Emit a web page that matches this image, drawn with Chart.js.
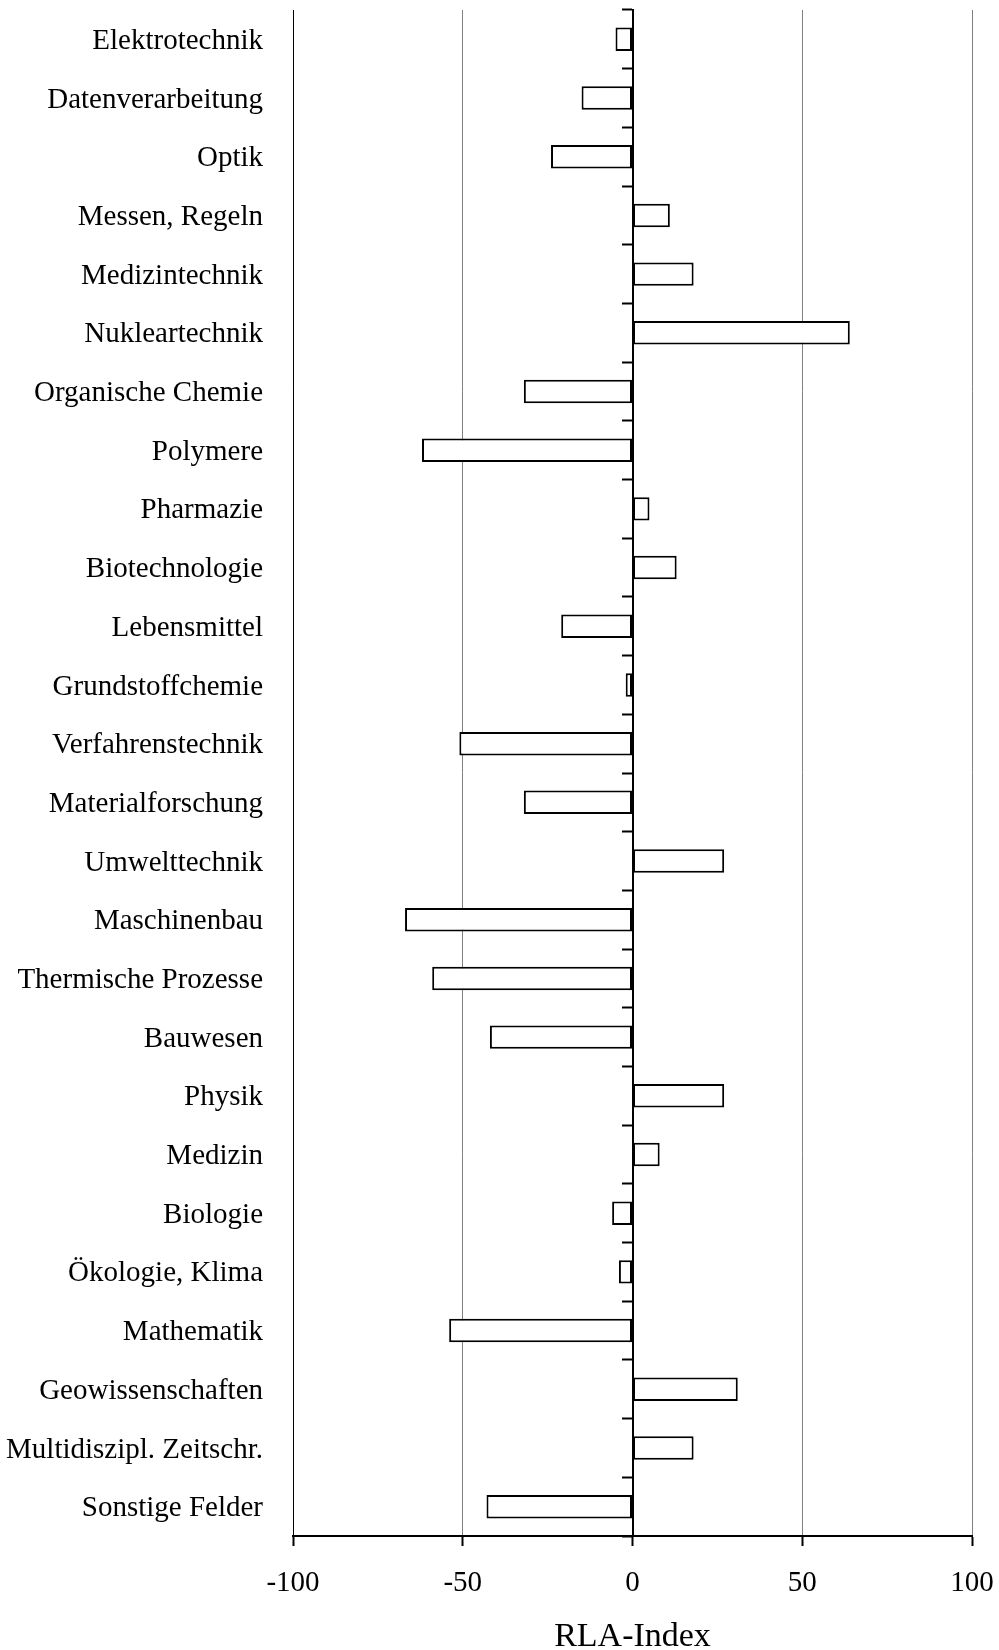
<!DOCTYPE html>
<html>
<head>
<meta charset="utf-8">
<script src="https://cdn.jsdelivr.net/npm/chart.js@4.4.1/dist/chart.umd.min.js"></script>
<style>
  html, body { margin: 0; padding: 0; background: #fff; }
  #wrap { width: 999px; height: 1650px; position: relative; }
</style>
</head>
<body>
<div id="wrap"><canvas id="c"></canvas></div>
<script>
const categories = [
  "Elektrotechnik", "Datenverarbeitung", "Optik", "Messen, Regeln", "Medizintechnik",
  "Nukleartechnik", "Organische Chemie", "Polymere", "Pharmazie", "Biotechnologie",
  "Lebensmittel", "Grundstoffchemie", "Verfahrenstechnik", "Materialforschung",
  "Umwelttechnik", "Maschinenbau", "Thermische Prozesse", "Bauwesen", "Physik",
  "Medizin", "Biologie", "Ökologie, Klima", "Mathematik", "Geowissenschaften",
  "Multidiszipl. Zeitschr.", "Sonstige Felder"
];
const rlaValues = [
  -5, -15, -24, 11, 18,
  64, -32, -62, 5, 13,
  -21, -2, -51, -32,
  27, -67, -59, -42, 27,
  8, -6, -4, -54, 31,
  18, -43
];
const xTicks = [-100, -50, 0, 50, 100];
const axisTitle = "RLA-Index";

const FONT = '"Liberation Serif", "Times New Roman", serif';

new Chart(document.getElementById('c'), {
  type: 'bar',
  data: {
    labels: categories,
    datasets: [{
      data: rlaValues,
      xAxisID: 'x',
      yAxisID: 'y',
      backgroundColor: '#ffffff',
      borderColor: '#000000',
      borderWidth: 2,
      borderSkipped: false,
      barPercentage: 0.4,
      categoryPercentage: 1.0
    }]
  },
  options: {
    indexAxis: 'y',
    responsive: true,
    maintainAspectRatio: false,
    animation: false,
    layout: { padding: { top: 10, right: 27, bottom: 0, left: 0 } },
    plugins: {
      legend: { display: false },
      tooltip: { enabled: false }
    },
    scales: {
      x: {
        type: 'linear',
        position: 'bottom',
        min: xTicks[0],
        max: xTicks[xTicks.length - 1],
        afterBuildTicks: (scale) => { scale.ticks = xTicks.map(v => ({ value: v })); },
        afterFit: (scale) => { scale.paddingLeft = 0; scale.paddingRight = 0; scale.height = 114; },
        ticks: {
          font: { family: FONT, size: 29 },
          color: '#000',
          padding: 20,
          maxRotation: 0,
          autoSkip: false
        },
        grid: {
          color: (ctx) => (ctx.tick && (ctx.tick.value === -100 || ctx.tick.value === 0)) ? '#000' : '#808080',
          lineWidth: 1,
          drawTicks: true,
          tickLength: 10,
          tickColor: '#000',
          tickWidth: 2
        },
        border: { display: true, color: '#000', width: 2 },
        title: {
          display: true,
          text: axisTitle,
          color: '#000',
          font: { family: FONT, size: 34, lineHeight: 0.77 },
          padding: { top: 19, bottom: 0 }
        }
      },
      y: {
        type: 'category',
        position: 'left',
        offset: true,
        afterFit: (scale) => { scale.width = 293; scale.paddingTop = 0; scale.paddingBottom = 0; },
        ticks: {
          font: { family: FONT, size: 29 },
          color: '#000',
          padding: 30,
          labelOffset: 2,
          autoSkip: false
        },
        grid: { display: true, drawOnChartArea: false, drawTicks: false },
        border: { display: true, color: '#000', width: 1 }
      },
      y2: {
        type: 'category',
        position: { x: 0 },
        offset: true,
        afterFit: (scale) => { scale.width = 0; scale.paddingTop = 0; scale.paddingBottom = 0; },
        ticks: { display: false, autoSkip: false },
        grid: {
          offset: true,
          drawOnChartArea: false,
          drawTicks: true,
          tickLength: 10,
          tickColor: '#000',
          tickWidth: 2,
          color: '#000'
        },
        border: { display: true, color: '#000', width: 2 }
      }
    }
  }
});
</script>
</body>
</html>
